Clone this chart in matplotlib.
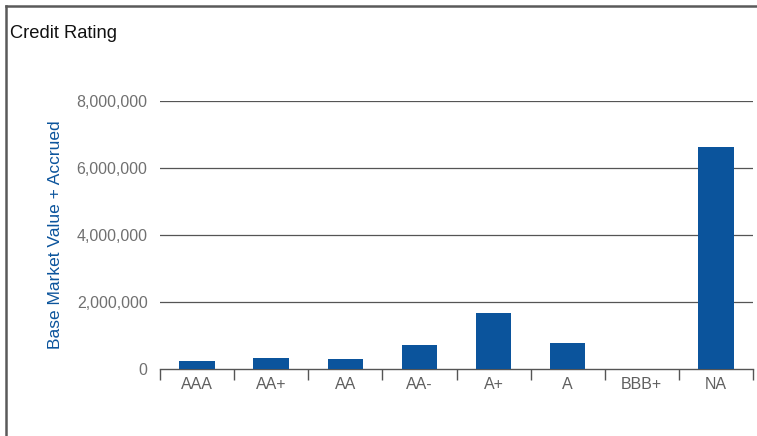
import matplotlib
matplotlib.use("Agg")
import matplotlib.pyplot as plt
from matplotlib.lines import Line2D
from matplotlib.ticker import FuncFormatter, FixedLocator
import numpy as np

categories = ["AAA", "AA+", "AA", "AA-", "A+", "A", "BBB+", "NA"]
values = [245000, 340000, 310000, 730000, 1680000, 790000, 0, 6630000]
yticks = [0, 2000000, 4000000, 6000000, 8000000]

W, H = 757, 436
fig = plt.figure(figsize=(W / 100, H / 100), dpi=100)
plt.rcParams['font.family'] = ['Liberation Sans', 'DejaVu Sans']

# outer frame (top and left edges only)
fig.lines.append(Line2D([5.5 / W, 1.0], [1 - 6 / H, 1 - 6 / H], transform=fig.transFigure,
                        color='#5a5a5a', linewidth=1.8))
fig.lines.append(Line2D([5.5 / W, 5.5 / W], [0.0, 1 - 6 / H], transform=fig.transFigure,
                        color='#5a5a5a', linewidth=1.8))

ax = fig.add_axes([160 / W, 67 / H, 593 / W, 268 / H])
x = np.arange(len(categories))
ax.bar(x, values, width=0.48, color='#0B549C', zorder=3)
ax.set_xlim(-0.5, len(categories) - 0.5)
ax.set_ylim(0, 8000000)

for s in ['top', 'right', 'left']:
    ax.spines[s].set_visible(False)
ax.spines['bottom'].set_color('#555555')
ax.spines['bottom'].set_linewidth(1.0)

ax.set_yticks(yticks)
ax.yaxis.set_major_formatter(FuncFormatter(lambda v, p: f"{int(v):,}"))
ax.tick_params(axis='y', length=0, pad=9, labelsize=11.5, labelcolor='#707070')
for yv in yticks[1:]:
    ax.axhline(yv, color='#555555', linewidth=0.9, zorder=1)

ax.set_xticks(x)
ax.set_xticklabels(categories)
ax.xaxis.set_minor_locator(FixedLocator(np.arange(-0.5, len(categories), 1.0)))
ax.tick_params(axis='x', which='major', length=0, pad=6, labelsize=11.5, labelcolor='#606060')
ax.tick_params(axis='x', which='minor', length=8, color='#555555', width=1.0)

ax.set_ylabel("Base Market Value + Accrued", color='#0B549C', fontsize=12.5)
ax.yaxis.set_label_coords(-(160 - 63) / 593, 0.5)

fig.text(10 / W, 1 - 33 / H, "Credit Rating", fontsize=13.2, color='#111111',
         ha='left', va='center')

fig.savefig("out.png", dpi=100)
